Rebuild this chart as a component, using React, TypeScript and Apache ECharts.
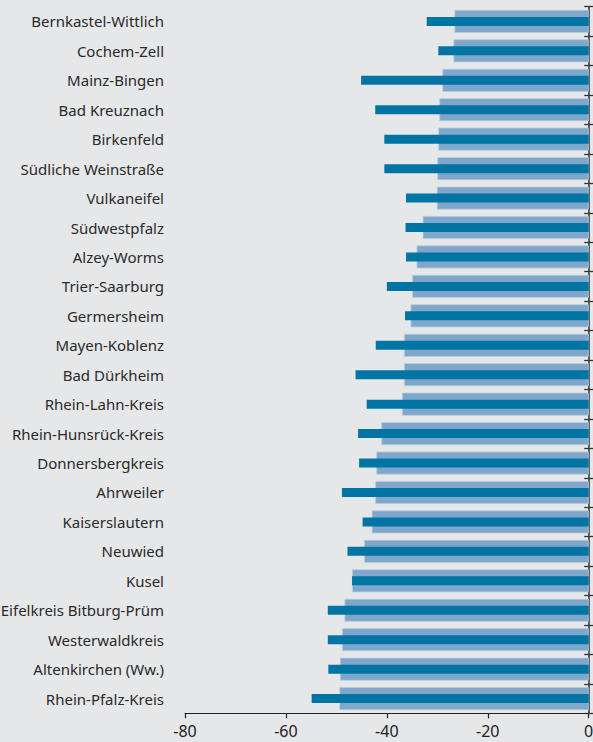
import React, { useEffect, useRef } from "react";
import * as echarts from "echarts";

const categories = [
  "Bernkastel-Wittlich",
  "Cochem-Zell",
  "Mainz-Bingen",
  "Bad Kreuznach",
  "Birkenfeld",
  "Südliche Weinstraße",
  "Vulkaneifel",
  "Südwestpfalz",
  "Alzey-Worms",
  "Trier-Saarburg",
  "Germersheim",
  "Mayen-Koblenz",
  "Bad Dürkheim",
  "Rhein-Lahn-Kreis",
  "Rhein-Hunsrück-Kreis",
  "Donnersbergkreis",
  "Ahrweiler",
  "Kaiserslautern",
  "Neuwied",
  "Kusel",
  "Eifelkreis Bitburg-Prüm",
  "Westerwaldkreis",
  "Altenkirchen (Ww.)",
  "Rhein-Pfalz-Kreis",
];

const wideValues = [
  -26.6, -26.8, -29.0, -29.6, -29.8, -30.0, -30.1, -32.9, -34.1, -35.0, -35.3, -36.6,
  -36.6, -37.0, -41.1, -42.1, -42.3, -43.0, -44.5, -46.9, -48.4, -48.9, -49.3, -49.4,
];

const narrowValues = [
  -32.1, -29.8, -45.1, -42.3, -40.5, -40.5, -36.2, -36.3, -36.2, -40.0, -36.4, -42.2,
  -46.2, -44.0, -45.7, -45.5, -48.9, -44.8, -47.8, -46.9, -51.7, -51.7, -51.6, -54.9,
];

const xTicks = { min: -80, max: 0, interval: 20 };

const FONT = "'Noto Sans', 'Open Sans', sans-serif";

export default function App() {
  const ref = useRef<HTMLDivElement>(null);
  useEffect(() => {
    if (!ref.current) return;
    const chart = echarts.init(ref.current, null, { renderer: "svg" });
    const hiddenAxis = {
      type: "category" as const,
      data: categories,
      inverse: true,
      position: "right" as const,
      axisLabel: { show: false },
      splitLine: { show: false },
    };
    chart.setOption({
      animation: false,
      backgroundColor: "#e6e7e9",
      textStyle: { fontFamily: FONT },
      grid: {
        left: 185,
        right: 4.3,
        top: 6.7,
        bottom: 28.7,
        containLabel: false,
        outerBoundsMode: "none",
      },
      xAxis: {
        type: "value",
        min: xTicks.min,
        max: xTicks.max,
        interval: xTicks.interval,
        position: "bottom",
        axisLine: { show: true, onZero: false, lineStyle: { color: "#222", width: 1.2 } },
        axisTick: { show: true, length: 5, lineStyle: { color: "#222", width: 1.2 } },
        axisLabel: { fontSize: 16, color: "#222", margin: 10, fontFamily: FONT },
        splitLine: { show: false },
      },
      yAxis: [
        {
          type: "category",
          data: categories,
          inverse: true,
          position: "left",
          axisLine: { show: false },
          axisTick: { show: false },
          axisLabel: { fontSize: 15, color: "#2a2a2a", margin: 21, fontFamily: FONT },
          splitLine: { show: false },
        },
        {
          ...hiddenAxis,
          axisLine: { show: true, onZero: false, lineStyle: { color: "#333", width: 1.5 } },
          axisTick: { show: true, inside: true, length: 4.5, lineStyle: { color: "#333", width: 1.3 } },
        },
        {
          ...hiddenAxis,
          axisLine: { show: false },
          axisTick: { show: true, inside: false, length: 4.5, lineStyle: { color: "#333", width: 1.3 } },
        },
      ],
      series: [
        {
          type: "bar",
          yAxisIndex: 0,
          data: wideValues,
          barWidth: 23,
          itemStyle: { color: "#7ea7cb", borderColor: "#b7cde1", borderWidth: 0.8 },
        },
        {
          type: "bar",
          yAxisIndex: 1,
          data: narrowValues,
          barWidth: 9,
          itemStyle: { color: "#0075a4" },
        },
      ],
    });
    return () => chart.dispose();
  }, []);
  return (
    <div
      ref={ref}
      style={{ position: "absolute", left: 0, top: 0, width: 593, height: 742, background: "#e6e7e9" }}
    />
  );
}
